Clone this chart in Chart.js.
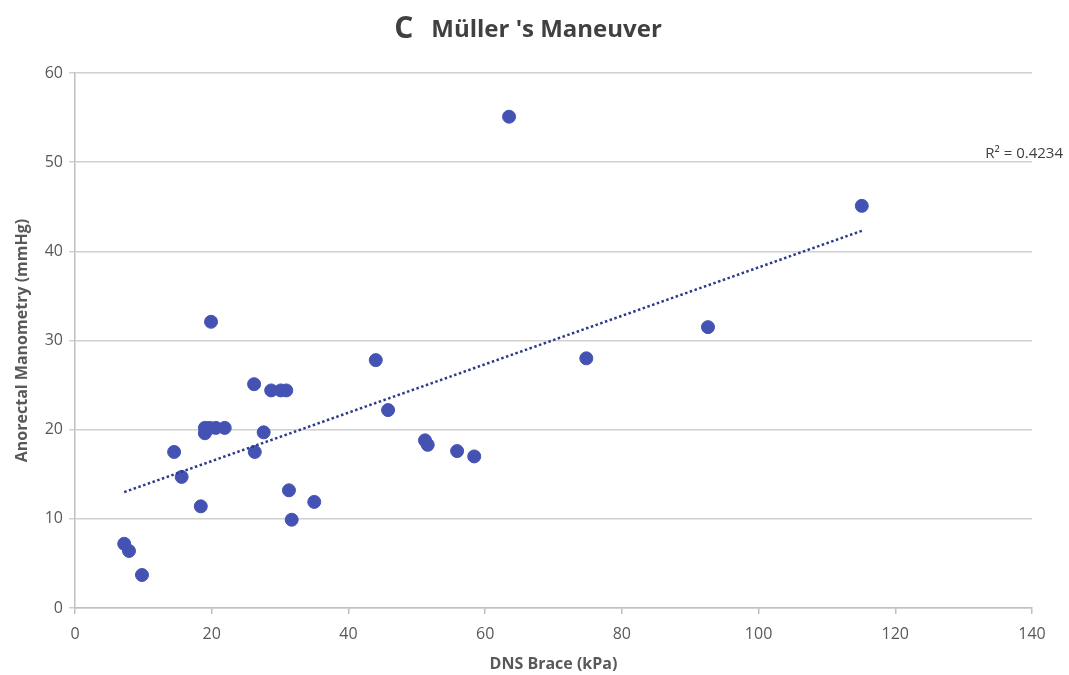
<!DOCTYPE html>
<html>
<head>
<meta charset="utf-8">
<script src="https://cdn.jsdelivr.net/npm/chart.js@4.4.0/dist/chart.umd.min.js"></script>
<style>
  html, body { margin: 0; padding: 0; background: #fff; }
  #wrap { width: 1069px; height: 675px; }
</style>
</head>
<body>
<div id="wrap"><canvas id="chart" width="1069" height="675"></canvas></div>
<script>
// DNS Brace (kPa) vs anorectal manometry (mmHg)
const braceKpa = [7.2, 7.9, 9.8, 14.5, 15.6, 18.4, 19.0, 19.0, 19.7, 19.9, 20.6, 21.9, 26.2, 26.3, 27.6, 28.7, 30.1, 30.9, 31.3, 31.7, 35.0, 44.0, 45.8, 51.2, 51.6, 55.9, 58.4, 63.5, 74.8, 92.6, 115.1];
const manometry = [7.2, 6.4, 3.7, 17.5, 14.7, 11.4, 20.2, 19.6, 20.2, 32.1, 20.2, 20.2, 25.1, 17.5, 19.7, 24.4, 24.4, 24.4, 13.2, 9.9, 11.9, 27.8, 22.2, 18.8, 18.3, 17.6, 17.0, 55.1, 28.0, 31.5, 45.1];
const trendX = [7.2, 115.1];
const trendY = [13.0, 42.3];
const xTicks = [0, 20, 40, 60, 80, 100, 120, 140];
const yTicks = [0, 10, 20, 30, 40, 50, 60];
const rSquared = 'R\u00b2 = 0.4234';

const fontFam = '"Open Sans", sans-serif';

const extras = {
  id: 'extras',
  afterDraw(chart) {
    const c = chart.ctx;
    const area = chart.chartArea;
    c.save();
    // title: big "C" then the maneuver name
    c.fillStyle = '#404040';
    c.textBaseline = 'alphabetic';
    c.font = 'bold 30px ' + fontFam;
    const wC = c.measureText('C').width;
    c.font = 'bold 24px ' + fontFam;
    const t = "M\u00fcller 's Maneuver";
    const wT = c.measureText(t).width;
    const gap = 18;
    let x0 = 528 - (wC + gap + wT) / 2;
    c.font = 'bold 30px ' + fontFam;
    c.fillText('C', x0, 38);
    c.font = 'bold 24px ' + fontFam;
    c.fillText(t, x0 + wC + gap, 37);
    // R squared label
    c.font = '15px ' + fontFam;
    c.fillStyle = '#404040';
    c.textAlign = 'right';
    c.fillText(rSquared, area.right + 31, chart.scales.y.getPixelForValue(50) - 4);
    c.restore();
  }
};

new Chart(document.getElementById('chart'), {
  type: 'scatter',
  data: {
    datasets: [
      {
        label: 'Points',
        data: braceKpa.map((v, i) => ({ x: v, y: manometry[i] })),
        backgroundColor: '#4453b3',
        borderColor: '#4453b3',
        pointRadius: 6.5,
        pointHoverRadius: 6.5,
        order: 2
      },
      {
        type: 'line',
        label: 'Trend',
        data: trendX.map((v, i) => ({ x: v, y: trendY[i] })),
        borderColor: '#2c3a8a',
        borderWidth: 2.5,
        borderDash: [2.5, 2.5],
        pointRadius: 0,
        fill: false,
        order: 1
      }
    ]
  },
  options: {
    responsive: false,
    animation: false,
    devicePixelRatio: 1,
    layout: { padding: { top: 73, right: 37, left: 9, bottom: 0 } },
    plugins: {
      legend: { display: false },
      tooltip: { enabled: false },
      title: { display: false }
    },
    scales: {
      x: {
        type: 'linear',
        min: 0, max: 140,
        afterBuildTicks: s => { s.ticks = xTicks.map(v => ({ value: v })); },
        afterFit: s => { s.height = 67; },
        grid: { display: true, drawOnChartArea: false, tickLength: 6, color: '#bfbfbf', lineWidth: 1.5 },
        border: { display: true, color: '#bfbfbf', width: 1.5 },
        ticks: { color: '#595959', font: { size: 16, family: fontFam }, padding: 11 },
        title: { display: true, text: 'DNS Brace (kPa)', color: '#595959', font: { size: 16, weight: 'bold', family: fontFam }, padding: { top: 4, bottom: 1 } }
      },
      y: {
        type: 'linear',
        min: 0, max: 60,
        afterBuildTicks: s => { s.ticks = yTicks.map(v => ({ value: v })); },
        afterFit: s => { s.width = 66; },
        grid: { color: '#d0d0d0', lineWidth: 1.5, tickLength: 6, drawTicks: true },
        border: { display: true, color: '#bfbfbf', width: 1.5 },
        ticks: { color: '#595959', font: { size: 16, family: fontFam }, padding: 6 },
        title: { display: true, text: 'Anorectal Manometry (mmHg)', color: '#595959', font: { size: 16, weight: 'bold', family: fontFam }, padding: { bottom: 2 } }
      }
    }
  },
  plugins: [extras]
});
</script>
</body>
</html>
